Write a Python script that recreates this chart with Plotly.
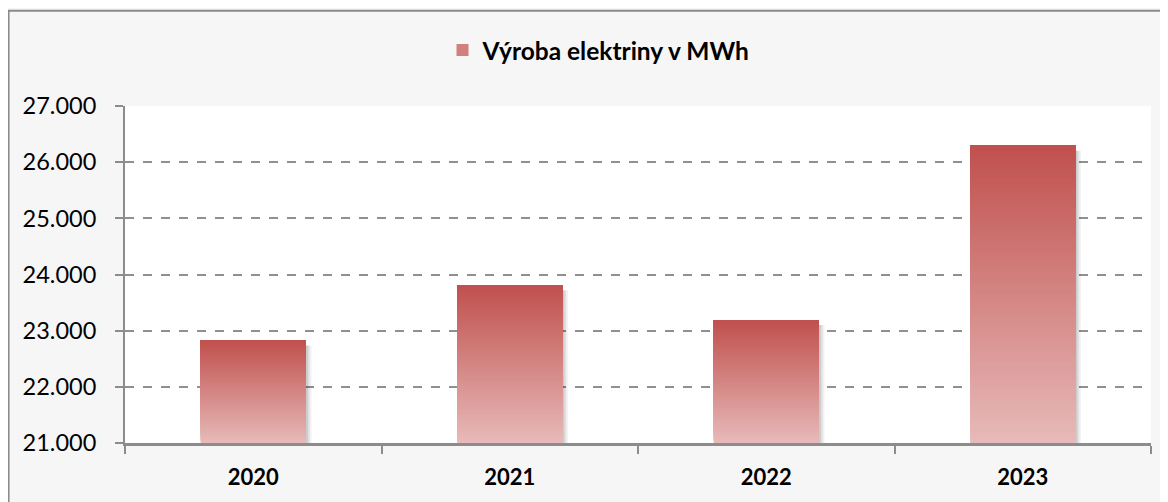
"""
Výroba elektriny v MWh - bar chart with vertical gradient bars
"""

import plotly.graph_objects as go

years = ["2020", "2021", "2022", "2023"]
production = [22825, 23810, 23190, 26295]
y_ticks = [21000, 22000, 23000, 24000, 25000, 26000, 27000]

Y_MIN = 21000
N_SLICES = 80
TOP_RGB = (192, 80, 77)
BOTTOM_RGB = (231, 186, 185)
BAR_WIDTH = 0.41


def blend(t):
    """t=0 -> bottom colour, t=1 -> top colour"""
    r, g, b = [round(lo + (hi - lo) * t) for lo, hi in zip(BOTTOM_RGB, TOP_RGB)]
    return f"rgb({r},{g},{b})"


fig = go.Figure()

# soft shadow on the right side of each bar
for shift, alpha in [(0.022, 0.05), (0.015, 0.07), (0.008, 0.09)]:
    fig.add_trace(
        go.Bar(
            x=years,
            y=[v - Y_MIN - 90 for v in production],
            base=Y_MIN,
            width=BAR_WIDTH,
            offset=-BAR_WIDTH / 2 + shift,
            marker=dict(color=f"rgba(0,0,0,{alpha})", line=dict(width=0)),
            showlegend=False,
            hoverinfo="skip",
        )
    )

# gradient: each slice runs up to the bar top, next slice paints over it
for k in range(N_SLICES):
    frac0 = k / N_SLICES
    fig.add_trace(
        go.Bar(
            x=years,
            y=[(v - Y_MIN) * (1 - frac0) for v in production],
            base=[Y_MIN + (v - Y_MIN) * frac0 for v in production],
            width=BAR_WIDTH,
            offset=-BAR_WIDTH / 2,
            marker=dict(color=blend((k + 0.5) / N_SLICES), line=dict(width=0)),
            showlegend=False,
            hoverinfo="skip",
        )
    )

# legend entry
fig.add_trace(
    go.Bar(
        x=[years[0]],
        y=[0],
        base=Y_MIN,
        name="Výroba elektriny v MWh",
        marker=dict(color=blend(0.55), line=dict(width=0)),
        showlegend=True,
    )
)

fig.update_layout(
    width=1160,
    height=494,
    barmode="overlay",
    paper_bgcolor="#f6f6f6",
    plot_bgcolor="#ffffff",
    separators=",.",
    font=dict(family="Lato, 'Open Sans', sans-serif", color="#000000", size=20),
    margin=dict(l=117, r=17, t=98, b=59),
    legend=dict(
        orientation="h",
        x=0.462,
        xanchor="center",
        y=1.166,
        yanchor="middle",
        font=dict(size=24.5, family="Lato, sans-serif", weight="bold"),
        bgcolor="rgba(0,0,0,0)",
    ),
    shapes=[
        dict(
            type="rect",
            xref="paper",
            yref="paper",
            x0=-0.1135,
            x1=1.2,
            y0=-0.5,
            y1=1.283,
            line=dict(color="#8a8a8a", width=2),
            fillcolor="rgba(0,0,0,0)",
            layer="below",
        )
    ],
)

fig.update_yaxes(
    range=[Y_MIN, 27000],
    tickvals=y_ticks,
    tickformat=",d",
    showgrid=True,
    gridcolor="#909090",
    gridwidth=1.5,
    griddash="dash",
    showline=True,
    linecolor="#8c8c8c",
    linewidth=2,
    ticks="outside",
    ticklen=8,
    tickcolor="#8c8c8c",
    tickwidth=2,
    ticklabelstandoff=14,
    tickfont=dict(size=23.5),
    zeroline=False,
)

fig.update_xaxes(
    type="category",
    showline=True,
    linecolor="#8c8c8c",
    linewidth=3,
    ticks="outside",
    tickson="boundaries",
    ticklen=8,
    tickcolor="#8c8c8c",
    tickwidth=2,
    tickfont=dict(size=22, weight="bold"),
    ticklabelstandoff=13,
    showgrid=False,
)

fig.write_html("out.html")
